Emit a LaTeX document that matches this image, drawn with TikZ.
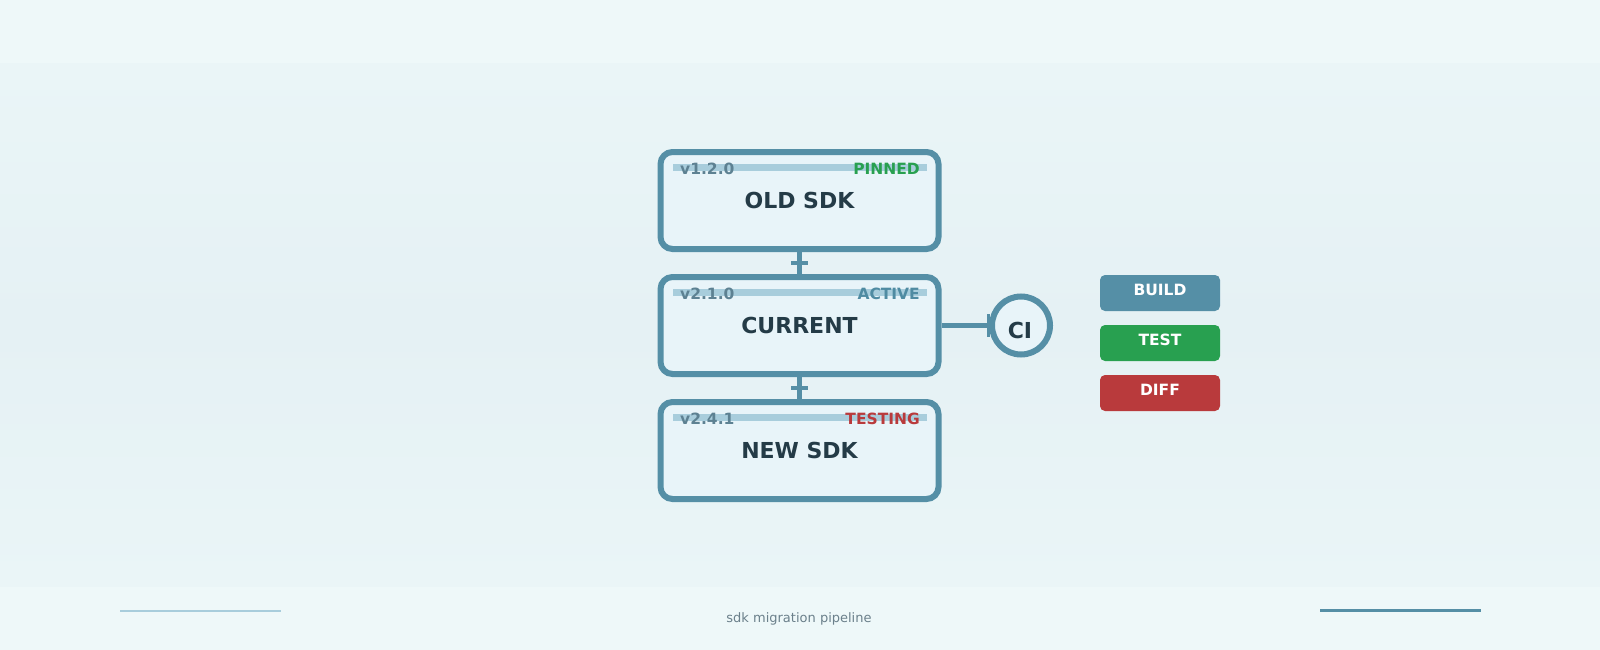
\documentclass[tikz,border=0pt]{standalone}
\usepackage{fontspec}
\setmainfont{DejaVu Sans}
\usetikzlibrary{shapes}
\usetikzlibrary{arrows.meta}
\usetikzlibrary{calc}
\definecolor{steel}{HTML}{558FA6}
\definecolor{boxfill}{HTML}{E8F4F9}
\definecolor{barblue}{HTML}{A8CDDC}
\definecolor{vergray}{HTML}{5D8192}
\definecolor{inkdark}{HTML}{243B47}
\definecolor{okgreen}{HTML}{28A050}
\definecolor{errred}{HTML}{B93A3C}
\definecolor{tagblue}{HTML}{4F8BA2}
\definecolor{footgray}{HTML}{6B808B}
\definecolor{bgband}{HTML}{EEF8F9}
\definecolor{bgedge}{HTML}{EAF5F7}
\definecolor{bgmid}{HTML}{E5F1F4}

\begin{document}
\begin{tikzpicture}[x=1pt, y=-1pt,
    sdkbox/.style={draw=steel, line width=6pt, fill=boxfill, rounded corners=12pt,
      minimum width=278pt, minimum height=97pt, inner sep=0pt, text=inkdark,
      font=\bfseries\fontsize{22}{26}\selectfont},
    hbar/.style={fill=barblue, minimum width=254pt, minimum height=7pt, inner sep=0pt},
    verlabel/.style={text=vergray, inner sep=0pt, font=\bfseries\fontsize{15.5}{18}\selectfont},
    link/.style={draw=steel, line width=4.5pt},
    pill/.style={rounded corners=5pt, minimum width=120pt, minimum height=36pt,
      inner sep=0pt, text depth=6pt, text=white, font=\bfseries\fontsize{15.5}{18}\selectfont}]
    \useasboundingbox (0,0) rectangle (1600,650);
    % background bands
    \shade[top color=bgedge, bottom color=bgmid] (0,63) rectangle (1600,325);
    \shade[top color=bgmid, bottom color=bgedge] (0,325) rectangle (1600,587);
    \fill[bgband] (0,0) rectangle (1600,63);
    \fill[bgband] (0,587) rectangle (1600,650);

    % the three sdk boxes
    \foreach \nm/\cy/\ver/\tag/\tagcol/\ttl in
      {old/200.5/v1.2.0/PINNED/okgreen/OLD SDK,
       cur/325.5/v2.1.0/ACTIVE/tagblue/CURRENT,
       new/450.5/v2.4.1/TESTING/errred/NEW SDK}
    {
      \node[sdkbox] (\nm) at (799.5,\cy) {\ttl};
      \node[hbar] (\nm bar) at (800,{\cy-33}) {};
      \node[verlabel, anchor=base west] (\nm ver) at (680,{\cy-26.5}) {\ver};
      \node[verlabel, text=\tagcol, anchor=base east] (\nm tag) at (920,{\cy-26.5}) {\tag};
    }

    \foreach \a/\b in {old/cur, cur/new}
    {
      \draw[link] (\a.south) -- (\b.north);
      \draw[link] ($(\a.south)!0.5!(\b.north)$) +(-8.5,0) -- +(8.5,0);
    }

    % ci hook
    \node[circle, draw=steel, line width=6pt, fill=boxfill, minimum size=58pt,
      inner sep=0pt] (ci) at (1021,325.5) {};
    \node[text=inkdark, inner sep=0pt, anchor=base,
      font=\bfseries\fontsize{22}{26}\selectfont] (cilabel) at (1020,338) {CI};
    \draw[link, line width=5.5pt, -{Bar[width=23pt, line width=3pt]}] (cur.east) -- ([xshift=1pt]ci.west);

    % legend
    \foreach \nm/\cy/\col/\txt in {build/293/steel/BUILD, test/343/okgreen/TEST, diff/393/errred/DIFF}
      \node[pill, fill=\col] (\nm) at (1160,\cy) {\txt};

    % footer
    \draw[barblue, line width=2pt] (120,610.5) -- (281,610.5);
    \draw[steel, line width=3pt] (1320,610.5) -- (1481,610.5);
    \node[text=footgray, inner sep=0pt, anchor=base, font=\fontsize{13}{16}\selectfont]
      (caption) at (799,622.5) {sdk migration pipeline};
\end{tikzpicture}
\end{document}
